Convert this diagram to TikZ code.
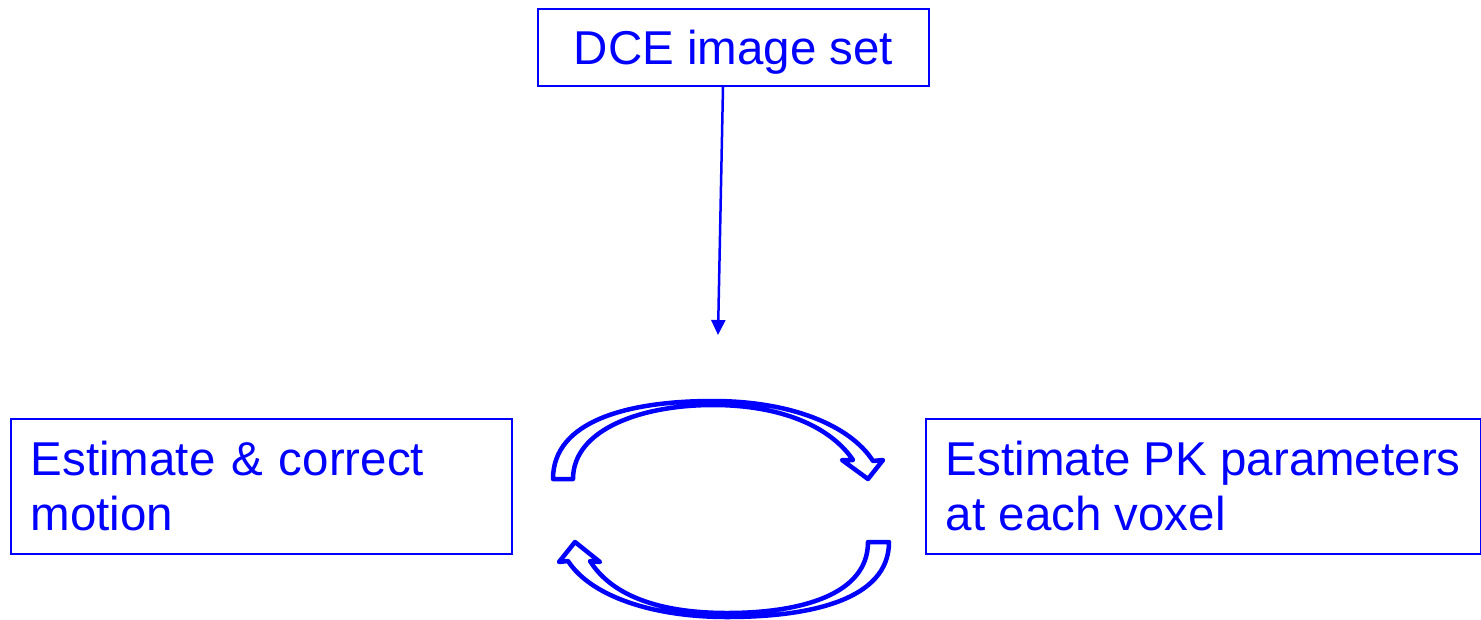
\documentclass[tikz,border=0pt]{standalone}
\usepackage{fontspec}
\setmainfont{Liberation Sans}
\usetikzlibrary{arrows.meta}
\definecolor{pblue}{RGB}{0,0,255}
\begin{document}
\begin{tikzpicture}[x=1pt,y=-1pt,
  box/.style={draw=pblue,line width=1.5pt,text=pblue,font=\fontsize{47.5}{55}\selectfont,inner sep=0pt},
  lbox/.style={box,minimum height=135pt,align=left,inner xsep=20pt},
  link/.style={draw=pblue,line width=2.5pt,-{Triangle[width=14pt,length=15pt]}},
  blockarrow/.style={draw=pblue,fill=white,line width=4.5pt,line join=round}]
\useasboundingbox (0,0) rectangle (1481,619);
\node[box,minimum width=391pt,minimum height=77pt,text depth=0pt] (dce) at (733.5,47.5) {DCE image set};
\node[lbox,text width=461pt,anchor=north west] (motion) at (10,418) {Estimate \& correct\\motion};
\node[lbox,minimum width=555pt,anchor=north west] (pk) at (925,418) {Estimate PK parameters\\at each voxel};
\coordinate (cyc) at (718,335);
\draw[link] ([xshift=-10.5pt]dce.south) -- (cyc);
% top curved block arrow
\path[blockarrow] (553,479) .. controls (553,420) and (630,401) .. (713,401)
  .. controls (790,401) and (850,425) .. (873,461)
  -- (883,460) -- (868,479) -- (842,460) -- (853,460)
  .. controls (830,426) and (780,405) .. (713,405)
  .. controls (640,405) and (573,430) .. (573,479) -- cycle;
% bottom curved block arrow
\path[blockarrow] (889,542) .. controls (889,600) and (810,617) .. (727,617)
  .. controls (650,617) and (590,595) .. (568,561)
  -- (559,562) -- (575,542) -- (600,562) -- (590,561)
  .. controls (612,596) and (660,613) .. (727,613)
  .. controls (800,613) and (868,595) .. (868,542) -- cycle;
\end{tikzpicture}
\end{document}
